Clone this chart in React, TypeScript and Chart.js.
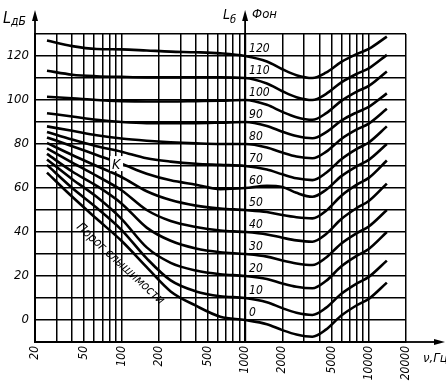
import { useEffect, useRef } from 'react';
import { Chart, registerables } from 'chart.js';
Chart.register(...registerables);

// Frequencies (Hz) at which each equal-loudness curve is read
const freqs = [25, 40, 63, 100, 160, 250, 400, 630, 1000, 1500, 2000, 2600, 3500, 4500, 6000, 8000, 10000, 14000];

// Sound pressure level (dB) of each loudness level curve (phon)
const phon120 = [127, 124.5, 123.2, 123, 122.5, 122, 121.7, 121.2, 120, 117.5, 114, 111.3, 110, 112.4, 117.3, 120.9, 123.2, 128.8];
const phon110 = [113.3, 111.5, 110.8, 110.5, 110.3, 110.3, 110.3, 110.3, 110, 107.5, 104, 101.3, 100, 102.7, 108, 111.9, 114.4, 120.5];
const phon100 = [101.5, 100.8, 100, 99.5, 99.3, 99.3, 99.5, 99.7, 100, 97.8, 94.6, 92.2, 91, 93.9, 99.6, 103.8, 106.4, 113];
const phon90 = [94, 92.5, 91, 90, 89.5, 89.5, 89.5, 89.7, 90, 88.2, 85.6, 83.6, 82.6, 85.3, 90.6, 94.4, 96.9, 103];
const phon80 = [88, 86, 84, 82.5, 81.5, 80.8, 80.3, 80, 80, 78.4, 76.1, 74.3, 73.5, 76.4, 82.3, 86.6, 89.3, 96];
const phon70 = [85.5, 82, 79, 76.5, 73.5, 72, 71, 70.5, 70, 68.4, 66.2, 64.4, 63.6, 66.8, 73.1, 77.8, 80.7, 88];
const phon60 = [83, 79, 75, 71, 66.5, 63.5, 61.5, 59.5, 60, 61, 60.5, 57.8, 56, 59.1, 65.4, 69.9, 72.8, 80];
const phon50 = [80.5, 75, 70, 65, 58.5, 54.5, 52, 50.7, 50, 49.1, 47.7, 46.7, 46.2, 49.6, 56.5, 61.5, 64.6, 72.5];
const phon40 = [78, 71.5, 65.5, 59, 50, 45, 42.3, 40.7, 40, 38.9, 37.4, 36.2, 35.6, 39, 45.9, 50.9, 54.1, 62];
const phon30 = [75.5, 67.5, 61, 53, 42, 36, 32.5, 30.8, 30, 28.8, 27, 25.7, 25, 28.3, 34.8, 39.5, 42.5, 50];
const phon20 = [73, 64, 56, 46, 33, 26, 22.5, 20.8, 20, 18.6, 16.6, 15.1, 14.4, 17.7, 24.4, 29.2, 32.3, 40];
const phon10 = [70.5, 60, 51, 41, 28, 18, 13, 10.8, 10, 8.1, 5.4, 3.3, 2.3, 5.5, 11.9, 16.6, 19.6, 27];
const phon0 = [67, 56, 46, 36, 24, 13, 6.5, 1.5, 0, -1.9, -4.6, -6.6, -7.6, -4.4, 2, 6.7, 9.6, 17];

const phonLevels = [0, 10, 20, 30, 40, 50, 60, 70, 80, 90, 100, 110, 120];
const curves = [phon0, phon10, phon20, phon30, phon40, phon50, phon60, phon70, phon80, phon90, phon100, phon110, phon120];

// Axis ticks
const xGridValues = [20, 30, 40, 50, 60, 70, 80, 90, 100, 200, 300, 400, 500, 600, 700, 800, 900,
  1000, 2000, 3000, 4000, 5000, 6000, 7000, 8000, 9000, 10000, 20000];
const xLabelValues = [20, 50, 100, 200, 500, 1000, 2000, 5000, 10000, 20000];
const yLabelValues = [0, 20, 40, 60, 80, 100, 120];

const thresholdText = 'Порог слышимости';
const FONT = "'Liberation Sans Narrow', 'DejaVu Sans Condensed', 'Liberation Sans', sans-serif";

const decor = {
  id: 'decor',
  afterDraw(chart: any) {
    const { ctx, chartArea: a, scales } = chart;
    const x = scales.x;
    const y = scales.y;
    ctx.save();
    ctx.strokeStyle = '#000';
    ctx.fillStyle = '#000';
    ctx.lineWidth = 1.8;

    const arrowUp = (px: number, tip: number) => {
      ctx.beginPath();
      ctx.moveTo(px, a.top);
      ctx.lineTo(px, tip + 6);
      ctx.stroke();
      ctx.beginPath();
      ctx.moveTo(px, tip);
      ctx.lineTo(px - 3, tip + 11);
      ctx.lineTo(px + 3, tip + 11);
      ctx.closePath();
      ctx.fill();
    };
    const x1k = x.getPixelForValue(1000);
    arrowUp(a.left, 10);
    arrowUp(x1k, 10);
    // x axis arrow
    ctx.beginPath();
    ctx.moveTo(a.right, a.bottom);
    ctx.lineTo(438, a.bottom);
    ctx.stroke();
    ctx.beginPath();
    ctx.moveTo(445, a.bottom);
    ctx.lineTo(434, a.bottom - 3);
    ctx.lineTo(434, a.bottom + 3);
    ctx.closePath();
    ctx.fill();
    // thicker 1000 Hz axis
    ctx.lineWidth = 2.2;
    ctx.beginPath();
    ctx.moveTo(x1k, a.top);
    ctx.lineTo(x1k, a.bottom);
    ctx.stroke();

    // phon labels next to 1000 Hz axis
    ctx.font = `italic 12px ${FONT}`;
    ctx.textAlign = 'left';
    ctx.textBaseline = 'middle';
    phonLevels.forEach((p) => {
      ctx.fillText(String(p), x1k + 4, y.getPixelForValue(p + 3.3));
    });

    // axis titles
    ctx.textBaseline = 'alphabetic';
    ctx.font = `italic 16px ${FONT}`;
    ctx.fillText('L', 3, 23);
    ctx.font = `italic 12px ${FONT}`;
    ctx.fillText('дБ', 11, 25);
    ctx.font = `italic 14px ${FONT}`;
    ctx.fillText('L', x1k - 22, 19);
    ctx.font = `italic 11px ${FONT}`;
    ctx.fillText('б', x1k - 15, 23);
    ctx.font = `italic 13px ${FONT}`;
    ctx.fillText('Фон', x1k + 7, 18);
    ctx.fillText('ν,Гц', 423, a.bottom + 20);

    // K mark
    const kx = x.getPixelForValue(84);
    const ky = y.getPixelForValue(68.6);
    ctx.fillStyle = '#fff';
    ctx.fillRect(kx - 2, ky - 13, 13, 15);
    ctx.fillStyle = '#000';
    ctx.font = `italic 14px ${FONT}`;
    ctx.fillText('K', kx, ky);

    // threshold of hearing text
    ctx.save();
    ctx.translate(x.getPixelForValue(98), y.getPixelForValue(25.5));
    ctx.rotate(0.74);
    ctx.font = `italic 12.5px ${FONT}`;
    ctx.textAlign = 'center';
    ctx.textBaseline = 'middle';
    ctx.fillText(thresholdText, 0, 0);
    ctx.restore();

    ctx.restore();
  },
};

export default function App() {
  const ref = useRef<HTMLCanvasElement>(null);
  useEffect(() => {
    if (!ref.current) return;
    const datasets = curves.map((c, k) => ({
      label: `${phonLevels[k]} фон`,
      data: freqs.map((f, i) => ({ x: f, y: c[i] })),
      borderColor: '#000',
      borderWidth: 2.6,
      pointRadius: 0,
      fill: false,
      cubicInterpolationMode: 'monotone' as const,
    }));
    const chart = new Chart(ref.current, {
      type: 'line',
      data: { datasets },
      options: {
        animation: false,
        responsive: false,
        layout: { padding: { top: 34, right: 40, left: 0, bottom: 0 } },
        plugins: { legend: { display: false }, tooltip: { enabled: false } },
        scales: {
          x: {
            type: 'logarithmic',
            min: 20,
            max: 20000,
            afterBuildTicks: (scale: any) => {
              scale.ticks = xGridValues.map((v) => ({ value: v }));
            },
            afterFit: (scale: any) => {
              scale.height = 43;
            },
            grid: { color: '#000', lineWidth: 1.5, drawTicks: false },
            border: { display: true, color: '#000', width: 2 },
            ticks: {
              autoSkip: false,
              minRotation: 90,
              maxRotation: 90,
              padding: 4,
              color: '#000',
              font: { family: FONT, size: 12, style: 'italic' },
              callback: (v: any) => (xLabelValues.includes(Number(v)) ? String(v) : ''),
            },
          },
          y: {
            type: 'linear',
            min: -10,
            max: 130,
            afterFit: (scale: any) => {
              scale.width = 35;
            },
            grid: { color: '#000', lineWidth: 1.5, drawTicks: false },
            border: { display: true, color: '#000', width: 2 },
            ticks: {
              stepSize: 10,
              padding: 6,
              color: '#000',
              font: { family: FONT, size: 13, style: 'italic' },
              callback: (v: any) => (yLabelValues.includes(Number(v)) ? String(v) : ''),
            },
          },
        },
      },
      plugins: [decor],
    });
    return () => chart.destroy();
  }, []);
  return (
    <div style={{ position: 'absolute', left: 0, top: 0, width: 446, height: 385, background: '#fff' }}>
      <canvas ref={ref} width={446} height={385} style={{ display: 'block' }} />
    </div>
  );
}
